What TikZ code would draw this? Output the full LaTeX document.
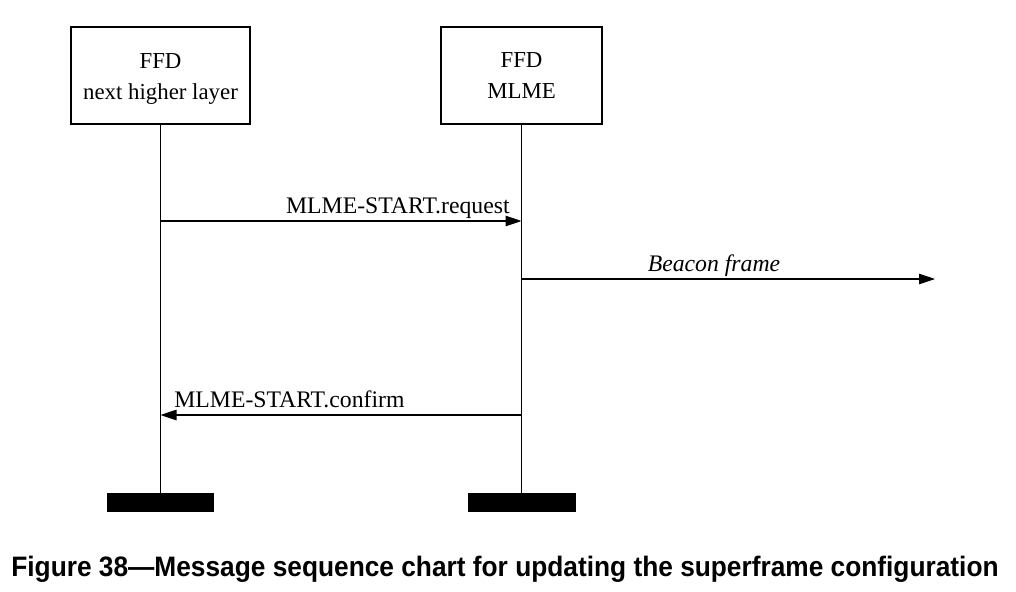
\documentclass[tikz,border=0pt]{standalone}
\usepackage{fontspec}
\setmainfont{Liberation Serif}
\setsansfont{Liberation Sans}
\usetikzlibrary{arrows.meta}

\tikzset{
  entity/.style={draw, line width=0.6pt, minimum height=1.94cm, align=center,
    font=\fontsize{13}{17.6}\selectfont},
  lifeline/.style={line width=0.6pt},
  msg/.style={line width=0.6pt, -{Triangle[length=0.32cm,width=0.21cm]}},
  msglabel/.style={inner sep=0pt, font=\fontsize{13.5}{15}\selectfont},
  endbar/.style={fill=black, inner sep=0pt, minimum width=2.16cm, minimum height=0.38cm},
}

\begin{document}
\begin{tikzpicture}[x=0.02cm, y=-0.02cm]
\useasboundingbox (0,0) rectangle (1016,591);

% the two entities
\node[entity, minimum width=3.58cm] (nhl) at (160.5,75.5) {\rule{0pt}{12pt}FFD\\next higher layer};
\node[entity, minimum width=3.22cm] (mlme) at (521.5,75.5) {FFD\\MLME};

% end bars and lifelines
\node[endbar] (nhlend) at (nhl.south |- 0,502.5) {};
\node[endbar] (mlmeend) at (mlme.south |- 0,502.5) {};
\draw[lifeline] (nhl.south) -- (nhlend.north);
\draw[lifeline] (mlme.south) -- (mlmeend.north);

% message levels
\coordinate (req) at (0,221);
\coordinate (bcn) at (0,279);
\coordinate (cfm) at (0,415);
\coordinate (air) at (935,279);

\draw[msg] (nhl.south |- req) -- (mlme.south |- req); % request
\node[msglabel, anchor=base east] (reqlabel) at (510,213) {MLME-START.request};

\draw[msg] (mlme.south |- bcn) -- (air); % beacon
\node[msglabel, anchor=base] (bcnlabel) at (714,271) {\itshape Beacon frame};

\draw[msg] (mlme.south |- cfm) -- (nhl.south |- cfm); % confirm
\node[msglabel, anchor=base west] (cfmlabel) at (174,407) {MLME-START.confirm};

% caption
\node[inner sep=0pt, anchor=base, font=\sffamily\bfseries\fontsize{16}{18}\selectfont] (caption) at (505,576)
  {\scalebox{0.935}[1]{Figure 38---Message sequence chart for updating the superframe configuration}};
\end{tikzpicture}
\end{document}
